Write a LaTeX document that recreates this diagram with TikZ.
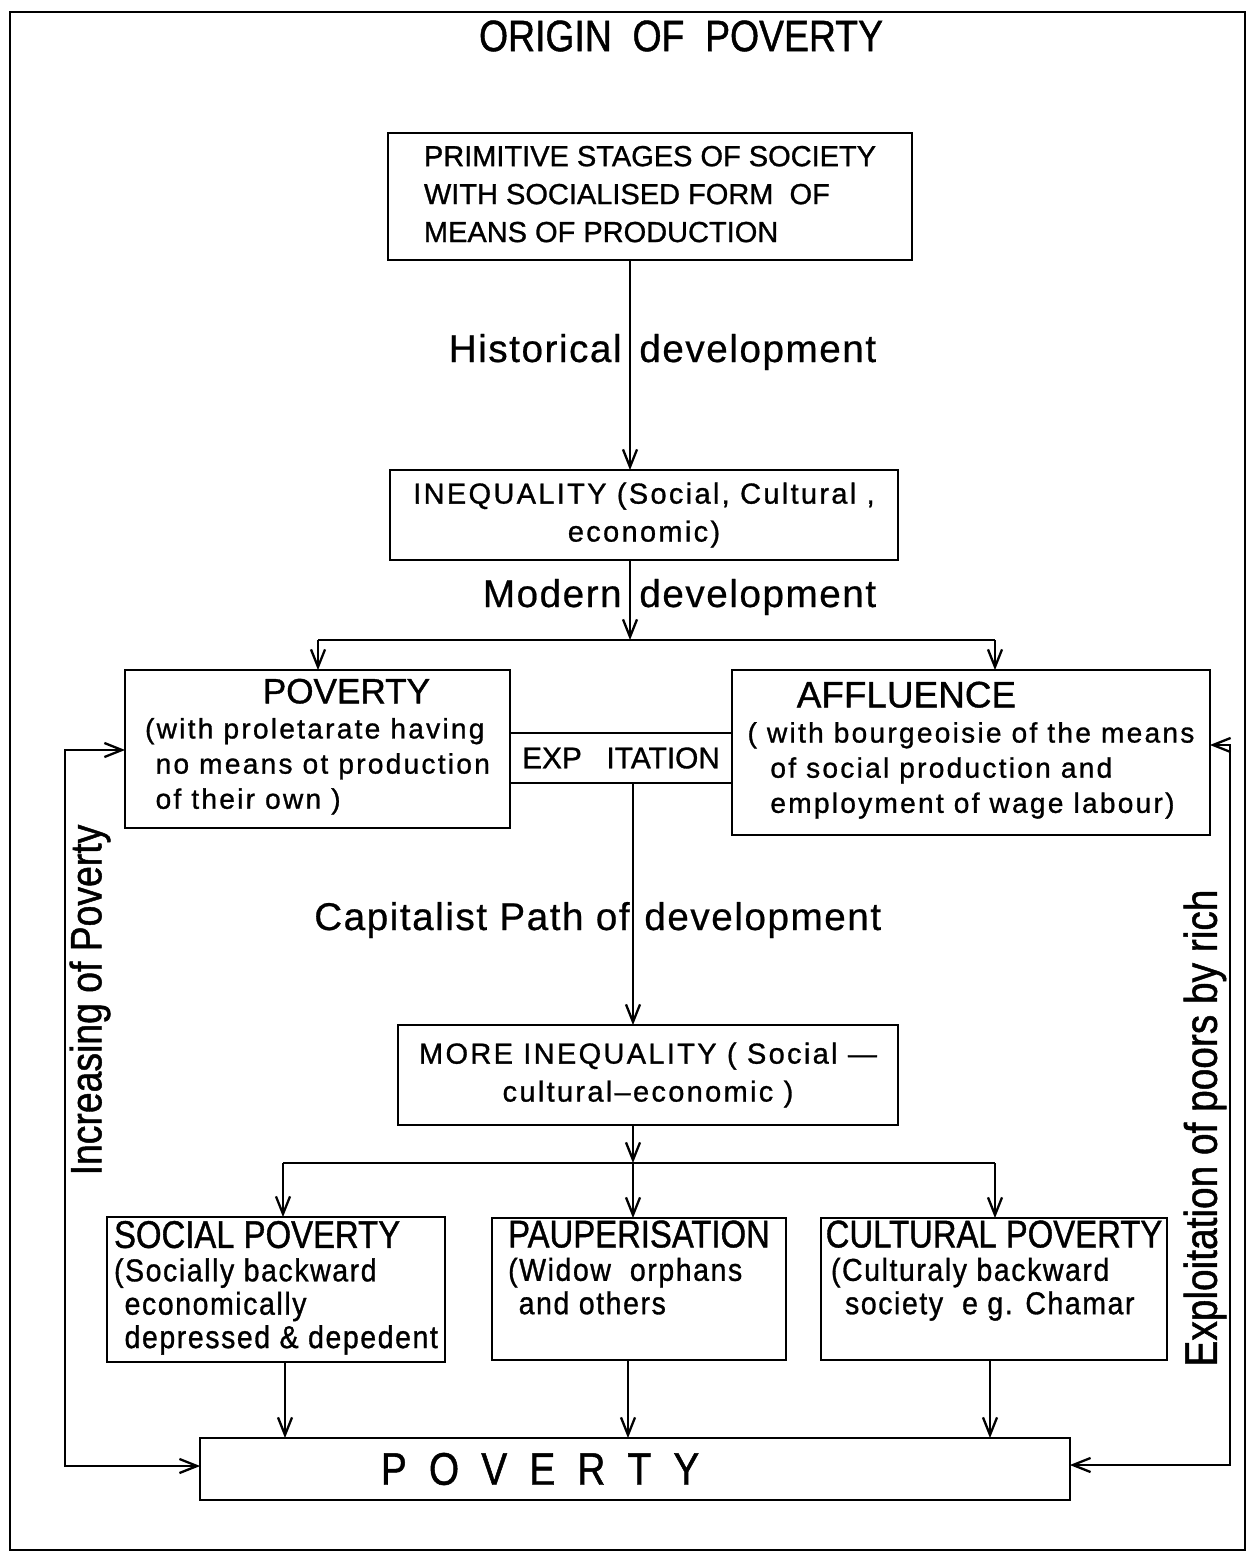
\documentclass[tikz,border=0pt]{standalone}
\usepackage{fontspec}
\setmainfont{Liberation Sans}[FakeBold=1]
\newfontfamily\condf{Liberation Sans}[FakeStretch=0.85,FakeBold=1]
\newfontfamily\condg{Liberation Sans}[FakeStretch=0.9,LetterSpace=5,FakeBold=1]
\newfontfamily\spaced{Liberation Sans}[LetterSpace=8,FakeBold=1]
\newfontfamily\lblf{Liberation Sans}[LetterSpace=4,FakeBold=0.6]
\usetikzlibrary{arrows.meta}
\tikzset{
  box/.style={draw, line width=1.5pt, rectangle, inner sep=0pt, outer sep=0pt},
  arr/.style={line width=1.3pt, -{Straight Barb[length=10pt,width=8pt]}},
  arrboth/.style={line width=1.3pt, {Straight Barb[length=10pt,width=8pt]}-{Straight Barb[length=10pt,width=8pt]}},
  plain/.style={line width=1.3pt},
  lbl/.style={inner sep=0pt, font=\lblf\fontsize{22}{26}\selectfont},
}
\begin{document}
\begin{tikzpicture}[x=0.02cm, y=-0.02cm]
\useasboundingbox (0,0) rectangle (1257,1553);
\draw[line width=1.2pt] (10,12) rectangle (1245,1550);

\node[inner sep=0pt] (title) at (681,36) {\condf\fontsize{25}{30}\selectfont ORIGIN\ \ OF\ \ POVERTY};

% boxes
\node[box, minimum width=10.48cm, minimum height=2.54cm] (prim) at (650,196.5)
 {\fontsize{16.5}{21.6}\selectfont\begin{tabular}{@{}l@{}}PRIMITIVE STAGES OF SOCIETY\\ WITH SOCIALISED FORM\ \ OF\\ MEANS OF PRODUCTION\end{tabular}};

\node[box, minimum width=10.16cm, minimum height=1.8cm] (ineq) at (644,515)
 {\spaced\fontsize{16.5}{21.6}\selectfont\begin{tabular}{@{}c@{}}INEQUALITY (Social, Cultural ,\\ economic)\end{tabular}};

\node[box, minimum width=7.7cm, minimum height=3.16cm] (pov) at (317.5,749)
 {\spaced\fontsize{16}{20}\selectfont\begin{tabular}{@{}l@{}}\hspace*{67pt}{\normalfont\fontsize{20}{20}\selectfont POVERTY}\\ (with proletarate having\\ \hspace*{6pt}no means ot production\\ \hspace*{6pt}of their own )\end{tabular}};

\node[box, minimum width=9.56cm, minimum height=3.3cm] (aff) at (971,752.5)
 {\spaced\fontsize{16}{20}\selectfont\begin{tabular}{@{}l@{}}\hspace*{28pt}{\normalfont\fontsize{21}{20}\selectfont AFFLUENCE}\\ ( with bourgeoisie of the means\\ \hspace*{13pt}of social production and\\ \hspace*{13pt}employment of wage labour)\end{tabular}};

\node[box, minimum width=4.44cm, minimum height=1.0cm] (expl) at (621,758)
 {\fontsize{17}{20}\selectfont EXP\hspace{14pt}ITATION};

\node[box, minimum width=10cm, minimum height=2cm] (more) at (648,1075)
 {\spaced\fontsize{16.5}{21.6}\selectfont\begin{tabular}{@{}c@{}}MORE INEQUALITY ( Social —\\ cultural–economic )\end{tabular}};

\node[box, minimum width=6.76cm, minimum height=2.9cm] (soc) at (276,1289.5)
 {\condg\fontsize{18}{19}\selectfont\begin{tabular}{@{}l@{}}{\condf\fontsize{22}{19}\selectfont SOCIAL POVERTY}\\ (Socially backward\\ \hspace*{6pt}economically\\ \hspace*{6pt}depressed \& depedent\end{tabular}};

\node[box, minimum width=5.88cm, minimum height=2.84cm] (paup) at (639,1289)
 {\condg\fontsize{18}{19}\selectfont\begin{tabular}{@{}l@{}}{\condf\fontsize{22}{19}\selectfont PAUPERISATION}\\ (Widow\ \ orphans\\ \hspace*{6pt}and others\\ \mbox{}\end{tabular}};

\node[box, minimum width=6.92cm, minimum height=2.84cm] (cult) at (994,1289)
 {\condg\fontsize{18}{19}\selectfont\begin{tabular}{@{}l@{}}{\condf\fontsize{22}{19}\selectfont CULTURAL POVERTY}\\ \hspace*{3pt}(Culturaly backward\\ \hspace*{11pt}society\ \ e g. Chamar\\ \mbox{}\end{tabular}};

\node[box, minimum width=17.4cm, minimum height=1.24cm] (povb) at (635,1469)
 {\condf\fontsize{26}{30}\selectfont P\hspace{12.6pt}O\hspace{12.6pt}V\hspace{12.6pt}E\hspace{12.6pt}R\hspace{12.6pt}T\hspace{12.6pt}Y\hspace*{108pt}};

% helper coordinates
\coordinate (xa) at (630,0);
\coordinate (xb) at (633,0);
\coordinate (j1) at (630,640);
\coordinate (jl1) at (318,640);
\coordinate (jr1) at (995,640);
\coordinate (j2) at (633,1163);
\coordinate (jl2) at (283,1163);
\coordinate (jr2) at (995,1163);
\coordinate (ds) at (285,0);
\coordinate (dp) at (628,0);
\coordinate (dc) at (990,0);
\coordinate (L1) at (65,750);
\coordinate (L2) at (65,1466);
\coordinate (R1) at (1230,745);
\coordinate (R2) at (1230,1465);

% connectors
\draw[arr] (prim.south -| xa) -- (ineq.north -| xa);
\draw[arr] (ineq.south -| xa) -- (j1);
\draw[plain] (jl1) -- (jr1);
\draw[arr] (jl1) -- (pov.north -| jl1);
\draw[arr] (jr1) -- (aff.north -| jr1);
\draw[arr] (expl.south -| xb) -- (more.north -| xb);
\draw[arr] (more.south -| xb) -- (j2);
\draw[plain] (jl2) -- (jr2);
\draw[arr] (jl2) -- (soc.north -| jl2);
\draw[arr] (j2) -- (paup.north -| j2);
\draw[arr] (jr2) -- (cult.north -| jr2);
\draw[arr] (soc.south -| ds) -- (povb.north -| ds);
\draw[arr] (paup.south -| dp) -- (povb.north -| dp);
\draw[arr] (cult.south -| dc) -- (povb.north -| dc);
\draw[arrboth] (pov.west |- L1) -- (L1) -- (L2) -- (povb.west |- L2);
\draw[arrboth] (aff.east |- R1) -- (R1) -- (R2) -- (povb.east |- R2);

% labels
\node[lbl, anchor=base east] (h1) at (622,362) {Historical};
\node[lbl, anchor=base west] (h2) at (639,362) {development};
\node[lbl, anchor=base east] (m1) at (622,607) {Modern};
\node[lbl, anchor=base west] (m2) at (639,607) {development};
\node[lbl, anchor=base east] (c1) at (630,930) {Capitalist Path of};
\node[lbl, anchor=base west] (c2) at (644,930) {development};
\node[inner sep=0pt, rotate=90, font=\condf\fontsize{25}{30}\selectfont] (incp) at (90,1000) {Increasing of Poverty};
\node[inner sep=0pt, rotate=90, font=\condf\fontsize{26}{30}\selectfont] (exrich) at (1205,1128) {Exploitation of poors by rich};
\end{tikzpicture}
\end{document}
